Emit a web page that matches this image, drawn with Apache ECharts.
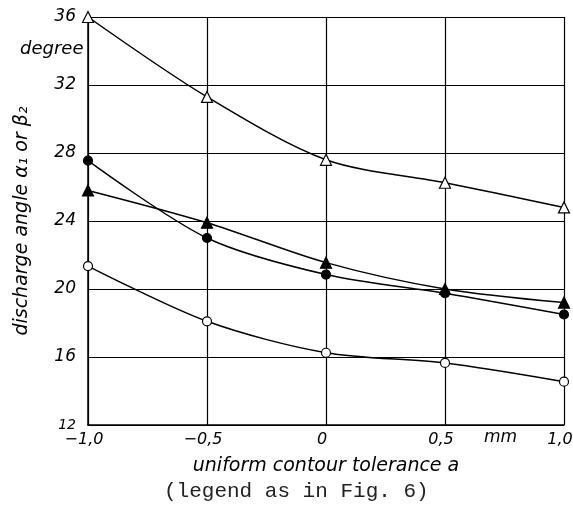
<!DOCTYPE html>
<html>
<head>
<meta charset="utf-8">
<script src="https://cdn.jsdelivr.net/npm/echarts@6/dist/echarts.min.js"></script>
<style>
  html, body { margin: 0; padding: 0; background: #fff; }
  #chart { width: 573px; height: 515px; }
</style>
</head>
<body>
<div id="chart"></div>
<script>
// uniform contour tolerance a (mm)
const tolerance = [-1.0, -0.5, 0, 0.5, 1.0];
// discharge angle (degree) for the four configurations
const openTriangle = [36.0, 31.3, 27.6, 26.25, 24.8];
const filledCircle = [27.55, 23.0, 20.85, 19.75, 18.5];
const filledTriangle = [25.8, 23.9, 21.55, 20.0, 19.2];
const openCircle = [21.35, 18.1, 16.25, 15.65, 14.55];
const yTicks = [12, 16, 20, 24, 28, 32, 36];

const labelFont = 'DejaVu Sans';
const pairs = vals => tolerance.map((x, i) => [x, vals[i]]);

function makeSeries(name, vals, symbol, fill, size) {
  return {
    name: name,
    type: 'line',
    data: pairs(vals),
    smooth: 0.3,
    symbol: symbol,
    symbolSize: size,
    showAllSymbol: true,
    lineStyle: { color: '#000', width: 1.5 },
    itemStyle: { color: fill, borderColor: '#000', borderWidth: 1.2 },
    z: 3
  };
}

const chart = echarts.init(document.getElementById('chart'), null, { renderer: 'canvas' });

function fmtNum(v) {
  if (v === 0) return '0';
  return v.toFixed(1).replace('.', ',').replace('-', '\u2212');
}

chart.setOption({
  animation: false,
  backgroundColor: '#fff',
  grid: { left: 88, right: 9, top: 17, bottom: 90, containLabel: false, outerBoundsMode: 'none' },
  xAxis: {
    type: 'value',
    min: -1,
    max: 1,
    interval: 0.5,
    name: 'uniform contour tolerance a',
    nameLocation: 'middle',
    nameGap: 32,
    nameTextStyle: { fontFamily: labelFont, fontStyle: 'italic', fontSize: 19, color: '#000' },
    axisLine: { show: true, onZero: false, lineStyle: { color: '#000', width: 1.5 } },
    axisTick: { show: false },
    axisLabel: {
      formatter: fmtNum,
      padding: [0, 8, 0, 0],
      fontFamily: labelFont, fontStyle: 'italic', fontSize: 16, color: '#000', margin: 7
    },
    splitLine: { show: true, lineStyle: { color: '#000', width: 1.2 } }
  },
  yAxis: {
    type: 'value',
    min: yTicks[0],
    max: yTicks[yTicks.length - 1],
    interval: 4,
    name: 'discharge angle \u03b1\u2081 or \u03b2\u2082',
    nameLocation: 'middle',
    nameGap: 56,
    nameTextStyle: { fontFamily: labelFont, fontStyle: 'italic', fontSize: 19, color: '#000' },
    axisLine: { show: true, onZero: false, lineStyle: { color: '#000', width: 1.5 } },
    axisTick: { show: false },
    axisLabel: {
      formatter: v => (v === 12 ? '{s|12}' : String(v)),
      rich: { s: { fontFamily: labelFont, fontStyle: 'italic', fontSize: 14, color: '#000' } },
      fontFamily: labelFont, fontStyle: 'italic', fontSize: 17, color: '#000', margin: 12
    },
    splitLine: { show: true, lineStyle: { color: '#000', width: 1.2 } }
  },
  series: [
    makeSeries('open triangle', openTriangle, 'triangle', '#fff', 11),
    makeSeries('filled circle', filledCircle, 'circle', '#000', 9),
    makeSeries('filled triangle', filledTriangle, 'triangle', '#000', 11),
    makeSeries('open circle', openCircle, 'circle', '#fff', 9)
  ],
  graphic: [
    {
      type: 'text', left: 20, top: 40,
      style: { text: 'degree', font: 'italic 18px "DejaVu Sans"', fill: '#000' }
    },
    {
      type: 'text', left: 484, top: 429,
      style: { text: 'mm', font: 'italic 17px "DejaVu Sans"', fill: '#000' }
    },
    {
      type: 'text', left: 164, top: 481,
      style: { text: '(legend as in Fig. 6)', font: '21px "Liberation Mono"', fill: '#222' }
    }
  ]
});
</script>
</body>
</html>
